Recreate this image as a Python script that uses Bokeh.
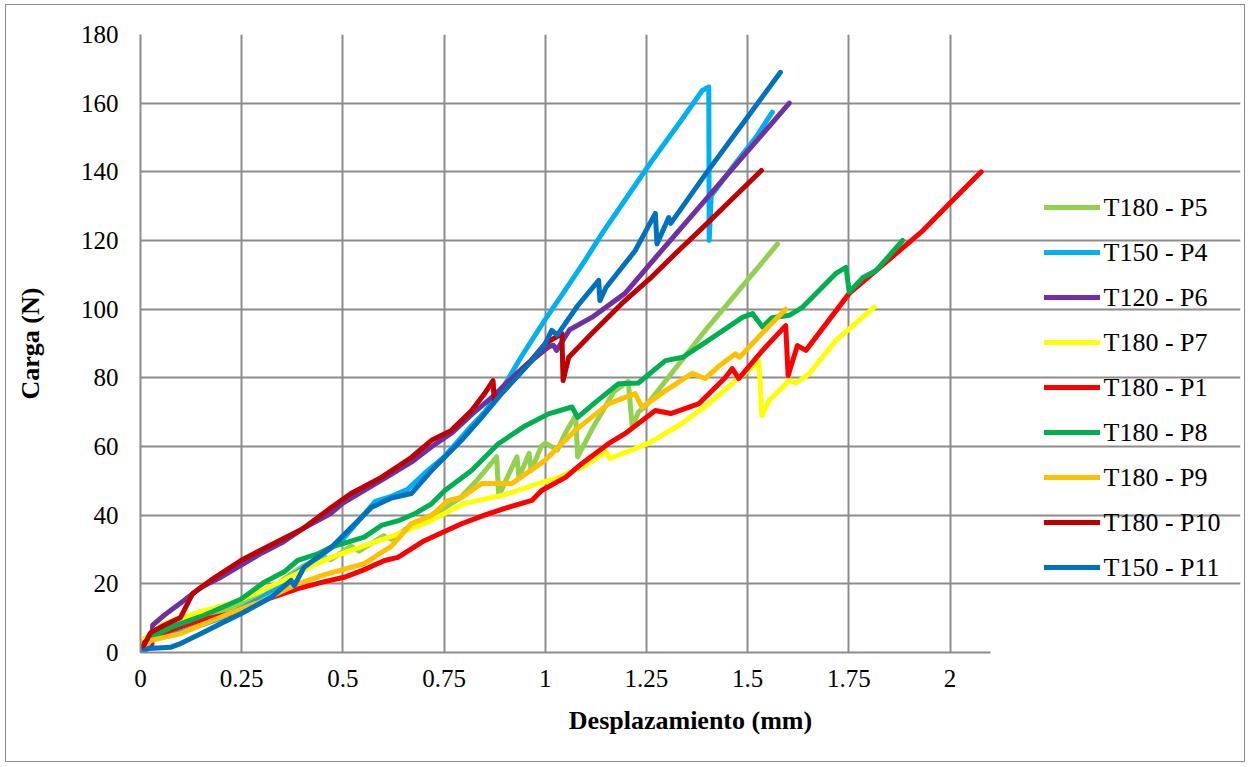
from bokeh.plotting import figure
from bokeh.models import FixedTicker, Legend, LegendItem, Range1d, Label
from bokeh.embed import file_html
from bokeh.resources import INLINE

# ---------------- data ----------------
series_names = ["T180 - P5", "T150 - P4", "T120 - P6", "T180 - P7", "T180 - P1",
                "T180 - P8", "T180 - P9", "T180 - P10", "T150 - P11"]

p5_x = [0, 0.01, 0.05, 0.1, 0.2, 0.25, 0.3, 0.35, 0.4, 0.45, 0.47, 0.52, 0.54, 0.6, 0.62, 0.68, 0.7, 0.75,
        0.79, 0.83, 0.88, 0.885, 0.91, 0.93, 0.935, 0.96, 0.965, 0.99, 1.0, 1.03, 1.05, 1.075, 1.08, 1.12,
        1.17, 1.205, 1.215, 1.23, 1.25, 1.3, 1.35, 1.4, 1.45, 1.5, 1.574]
p5_y = [0, 4, 7, 9, 12, 14, 17, 21, 25, 28, 27, 31, 29.5, 34, 33, 38, 37.5, 42,
        45, 50, 57, 45.5, 52, 57, 51, 58, 53, 60, 61, 59, 64, 69, 57, 66,
        76, 79, 65.5, 70, 72, 79.5, 87, 94.5, 101.5, 108.5, 119]

p4_x = [0, 0.01, 0.05, 0.1, 0.2, 0.25, 0.3, 0.37, 0.42, 0.5, 0.58, 0.62, 0.66, 0.7, 0.75, 0.81, 0.85, 0.9,
        0.94, 1.0, 1.05, 1.1, 1.14, 1.2, 1.264, 1.33, 1.388, 1.404, 1.405, 1.41, 1.47, 1.52, 1.561]
p4_y = [0, 4, 5, 6, 10, 13, 16, 22, 26, 33, 44, 45.5, 47.5, 52, 57, 65, 70, 78,
        86, 97, 105.7, 114.5, 122, 132.3, 143.3, 154, 163.7, 164.7, 120, 133, 142.5, 150, 157.4]

p6_x = [0, 0.028, 0.03, 0.06, 0.1, 0.15, 0.2, 0.25, 0.3, 0.35, 0.4, 0.47, 0.5, 0.55, 0.6, 0.67, 0.72, 0.77,
        0.82, 0.87, 0.9, 0.95, 1.008, 1.02, 1.028, 1.06, 1.115, 1.197, 1.281, 1.4, 1.5, 1.603]
p6_y = [0, 2, 8, 11, 14.5, 19, 22, 25.5, 29, 32, 36, 40.5, 43.5, 47, 50.5, 55.5, 60, 64,
        69.5, 74.5, 78, 83.5, 89, 89.5, 88, 94, 97.6, 104.6, 116.2, 132.4, 146, 160]

p7_x = [0, 0.01, 0.057, 0.1, 0.15, 0.223, 0.3, 0.37, 0.42, 0.471, 0.55, 0.636, 0.719, 0.8, 0.9, 0.983,
        1.033, 1.1, 1.15, 1.16, 1.256, 1.338, 1.404, 1.47, 1.528, 1.535, 1.553, 1.603, 1.62, 1.652, 1.718, 1.813]
p7_y = [0, 4, 8.4, 10, 12, 14.3, 18, 22, 25, 27.7, 31, 34.5, 38.5, 43.4, 46, 49.2,
        51, 54.5, 58.5, 56.5, 61, 66.7, 72.5, 79.2, 84.6, 69, 73.4, 79.2, 78.5, 81.2, 90.9, 100.6]

p1_x = [0, 0.01, 0.05, 0.1, 0.15, 0.223, 0.3, 0.389, 0.45, 0.503, 0.55, 0.603, 0.636, 0.7, 0.793, 0.85,
        0.9, 0.967, 0.991, 1.05, 1.09, 1.157, 1.2, 1.272, 1.31, 1.38, 1.445, 1.462, 1.478, 1.537, 1.594,
        1.6, 1.623, 1.644, 1.751, 1.85, 1.933, 2.0, 2.077]
p1_y = [0, 3, 5.5, 7.5, 9.5, 11.3, 15, 18.6, 20.5, 21.9, 24, 26.8, 27.7, 32.5, 37.5, 40,
        42, 44.3, 47.2, 51, 55, 60.9, 64, 70.5, 69.6, 72.5, 80.1, 82.7, 79.8, 88, 95.2,
        80.7, 89.4, 88, 104.6, 114.5, 122.9, 130.9, 140]

p8_x = [0, 0.02, 0.074, 0.15, 0.248, 0.306, 0.355, 0.388, 0.438, 0.471, 0.553, 0.595, 0.64, 0.677, 0.719,
        0.752, 0.818, 0.884, 0.95, 1.008, 1.066, 1.08, 1.12, 1.181, 1.23, 1.297, 1.34, 1.404, 1.487, 1.512,
        1.537, 1.56, 1.603, 1.636, 1.718, 1.743, 1.751, 1.785, 1.817, 1.883]
p8_y = [0, 4, 7.3, 10.5, 15.5, 20.5, 23.5, 26.8, 28.7, 30.7, 33.6, 37, 38.5, 40.4, 43.3,
        47.2, 53, 60.8, 66, 69.5, 71.5, 68.5, 72.5, 78.3, 78.5, 85, 86, 91, 97.6, 98.7,
        94.8, 97.5, 98.2, 100.6, 110.4, 112.2, 105, 109.2, 111.2, 120]

p9_x = [0, 0.025, 0.099, 0.15, 0.223, 0.3, 0.389, 0.45, 0.553, 0.62, 0.669, 0.72, 0.76, 0.793, 0.843,
        0.917, 0.999, 1.074, 1.157, 1.222, 1.239, 1.3, 1.363, 1.395, 1.43, 1.47, 1.48, 1.54, 1.594]
p9_y = [0, 3.5, 5.5, 8, 11.5, 15, 20, 22.5, 25.9, 31, 37.5, 40, 44.3, 45.2, 49.2,
        49.2, 55.9, 64.7, 72.5, 75.4, 71.4, 76.5, 81.3, 79.8, 83.5, 87, 86, 93.5, 100]

p10_x = [0, 0.012, 0.025, 0.06, 0.099, 0.129, 0.173, 0.248, 0.3, 0.4, 0.471, 0.52, 0.595, 0.669, 0.719,
         0.768, 0.818, 0.85, 0.871, 0.874, 0.9, 0.95, 1.0, 1.041, 1.044, 1.058, 1.115, 1.197, 1.264,
         1.32, 1.4, 1.534]
p10_y = [0, 2.9, 5.8, 8, 10.2, 17.2, 21, 26.8, 30, 36, 42.2, 46.3, 51, 56.8, 61.8,
         64.7, 70.5, 75.4, 79.2, 73.4, 76.5, 83, 90, 92.9, 79.2, 86, 92.9, 102.5, 109.5,
         116, 125, 140.4]

p11_x = [0, 0.02, 0.074, 0.099, 0.15, 0.2, 0.248, 0.322, 0.372, 0.38, 0.404, 0.471, 0.57, 0.62, 0.669,
         0.719, 0.793, 0.843, 0.892, 0.967, 1.0, 1.016, 1.03, 1.08, 1.132, 1.135, 1.15, 1.222, 1.272,
         1.276, 1.305, 1.31, 1.4, 1.5, 1.581]
p11_y = [0, 1.2, 1.5, 2.6, 5.5, 8.5, 11.3, 16, 21, 19.5, 24.8, 30.6, 42.2, 45, 46.3,
         53, 61.8, 68.5, 75.4, 85, 90, 93.8, 92.5, 101, 108.4, 102.5, 106.3, 117, 127.9,
         119, 126.7, 125, 140, 156, 169]

series_x = [p5_x, p4_x, p6_x, p7_x, p1_x, p8_x, p9_x, p10_x, p11_x]
series_y = [p5_y, p4_y, p6_y, p7_y, p1_y, p8_y, p9_y, p10_y, p11_y]
series_colors = ["#92D050", "#00B0F0", "#7030A0", "#FFFF00", "#FF0000",
                 "#00B050", "#FFC000", "#C00000", "#0070C0"]

x_ticks = [0, 0.25, 0.5, 0.75, 1, 1.25, 1.5, 1.75, 2]
x_tick_labels = ["0", "0.25", "0.5", "0.75", "1", "1.25", "1.5", "1.75", "2"]
y_ticks = [0, 20, 40, 60, 80, 100, 120, 140, 160, 180]
x_max = 2.1
y_max = 180

# ---------------- figure ----------------
FONT = "Liberation Serif"
GRID = "#8c8c8c"

# plot frame spans 140..1240 px; the data area (0..2.1) covers 850 px of it,
# the rest on the right holds the legend
W, H = 1250, 767
LEFT, RIGHT, TOP, BOTTOM = 140, 10, 34, 115
data_px = 850
frame_px = W - LEFT - RIGHT
x_end = x_max * frame_px / data_px

p = figure(width=W, height=H, output_backend="svg", toolbar_location=None,
           x_range=Range1d(0, x_end), y_range=Range1d(0, y_max),
           min_border_left=LEFT, min_border_right=RIGHT, min_border_top=TOP, min_border_bottom=BOTTOM)
p.outline_line_color = None
p.background_fill_color = "white"
p.border_fill_color = "white"

p.xaxis.ticker = FixedTicker(ticks=x_ticks)
p.xaxis.major_label_overrides = {t: l for t, l in zip(x_ticks, x_tick_labels)}
p.xaxis.bounds = (0, x_max)
p.yaxis.ticker = FixedTicker(ticks=y_ticks)

for ax in (p.xaxis, p.yaxis):
    ax.major_tick_line_color = None
    ax.minor_tick_line_color = None
    ax.major_tick_out = 0
    ax.major_tick_in = 0
    ax.minor_tick_out = 0
    ax.major_label_text_font = FONT
    ax.major_label_text_font_size = "25px"
    ax.major_label_text_color = "black"
    ax.axis_label_text_font = FONT
    ax.axis_label_text_font_size = "26px"
    ax.axis_label_text_font_style = "bold"
    ax.axis_label_text_color = "black"
    ax.axis_line_color = GRID
    ax.axis_line_width = 2

p.xaxis.axis_label = "Desplazamiento (mm)"
p.yaxis.axis_label = "Carga (N)"
p.xaxis.major_label_standoff = 17
p.xaxis.axis_label_standoff = 16
p.yaxis.major_label_standoff = 22
p.yaxis.axis_label_standoff = 33

p.xgrid.ticker = FixedTicker(ticks=x_ticks)
p.ygrid.ticker = FixedTicker(ticks=y_ticks)
p.ygrid.bounds = (0, x_max)
for g in (p.xgrid, p.ygrid):
    g.grid_line_color = GRID
    g.grid_line_width = 2

# legend layout (screen px, relative to the frame's bottom-left corner)
LEG_X = 904          # start of legend sample lines
LEG_BOTTOM = 70
ROW_H, ROW_GAP = 30, 15
n = len(series_names)

items = []
for name, xs, ys, c in zip(series_names, series_x, series_y, series_colors):
    r = p.line(xs, ys, line_color=c, line_width=5, line_join="round", line_cap="round")
    items.append(LegendItem(label="", renderers=[r]))

legend = Legend(items=items, location=(LEG_X, LEG_BOTTOM), orientation="vertical",
                glyph_width=56, glyph_height=ROW_H, label_height=ROW_H, label_width=0,
                spacing=ROW_GAP, label_standoff=0, padding=0, margin=0,
                border_line_color=None, background_fill_alpha=0)
p.add_layout(legend, "center")

# legend texts
for i, name in enumerate(series_names):
    y_center = LEG_BOTTOM + ROW_H / 2 + (n - 1 - i) * (ROW_H + ROW_GAP)
    p.add_layout(Label(x=LEG_X + 59, y=y_center, x_units="screen", y_units="screen",
                       text=name, text_font=FONT, text_font_size="26px", text_color="black",
                       text_baseline="middle", text_align="left"))

html = file_html(p, INLINE)
frame_css = ('<style>body::after{content:"";position:fixed;left:5px;top:4px;width:1238px;height:756px;'
             'border:1.5px solid #8c8c8c;pointer-events:none;}</style></head>')
html = html.replace("</head>", frame_css, 1)
open("out.html", "w").write(html)
